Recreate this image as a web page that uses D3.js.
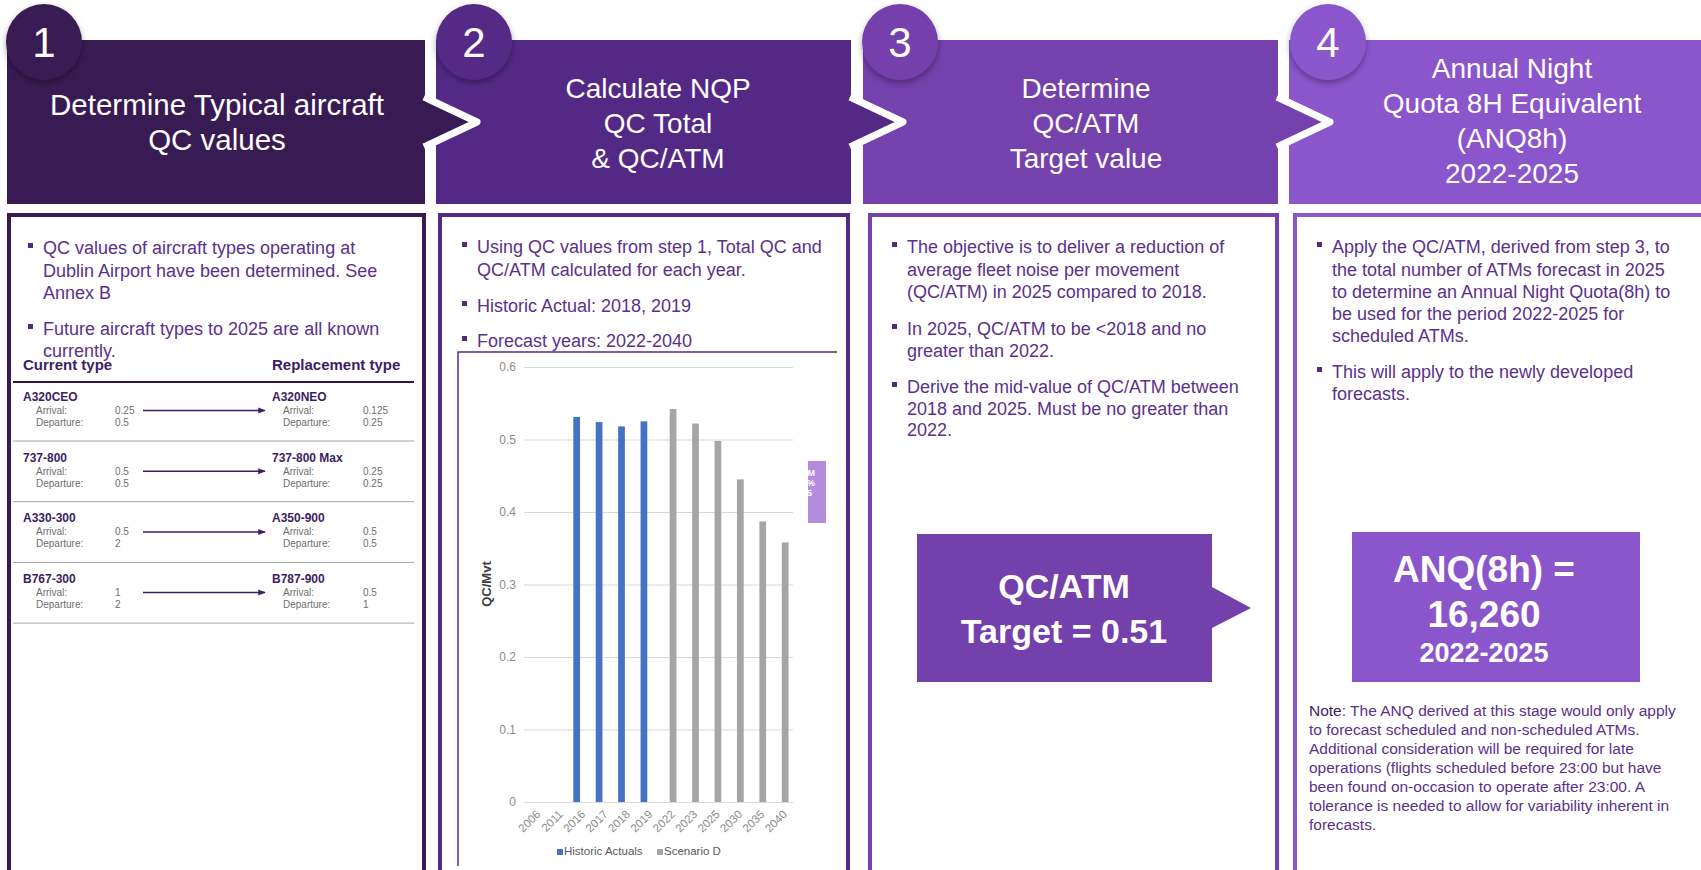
<!DOCTYPE html>
<html><head><meta charset="utf-8">
<script src="https://cdn.jsdelivr.net/npm/d3@7"></script>
<style>
html,body{margin:0;padding:0;background:#fff;overflow:hidden}
svg{display:block;font-family:"Liberation Sans",Arial,Helvetica,sans-serif}
</style></head><body>
<svg id="c" width="1701" height="870"></svg>
<script>
// ---------------- DATA ----------------
const stepNumbers = ["1", "2", "3", "4"];
const stepTitles = [
  ["Determine Typical aircraft", "QC values"],
  ["Calculate NQP", "QC Total", "& QC/ATM"],
  ["Determine", "QC/ATM", "Target value"],
  ["Annual Night", "Quota 8H Equivalent", "(ANQ8h)", "2022-2025"]
];
const step1Bullets = [
  ["QC values of aircraft types operating at", "Dublin Airport have been determined. See", "Annex B"],
  ["Future aircraft types to 2025 are all known", "currently."]
];
const step2Bullets = [
  ["Using QC values from step 1, Total QC and", "QC/ATM calculated for each year."],
  ["Historic Actual: 2018, 2019"],
  ["Forecast years: 2022-2040"]
];
const step3Bullets = [
  ["The objective is to deliver a reduction of", "average fleet noise per movement", "(QC/ATM) in 2025 compared to 2018."],
  ["In 2025, QC/ATM to be <2018 and no", "greater than 2022."],
  ["Derive the mid-value of QC/ATM between", "2018 and 2025. Must be no greater than", "2022."]
];
const step4Bullets = [
  ["Apply the QC/ATM, derived from step 3, to", "the total number of ATMs forecast in 2025", "to determine an Annual Night Quota(8h) to", "be used for the period 2022-2025 for", "scheduled ATMs."],
  ["This will apply to the newly developed", "forecasts."]
];
const tableHeaders = ["Current type", "Replacement type"];
const rowLabels = ["Arrival:", "Departure:"];
const currentTypes = ["A320CEO", "737-800", "A330-300", "B767-300"];
const currentArrival = ["0.25", "0.5", "0.5", "1"];
const currentDeparture = ["0.5", "0.5", "2", "2"];
const replacementTypes = ["A320NEO", "737-800 Max", "A350-900", "B787-900"];
const replacementArrival = ["0.125", "0.25", "0.5", "0.5"];
const replacementDeparture = ["0.25", "0.25", "0.5", "1"];

const years = ["2006", "2011", "2016", "2017", "2018", "2019", "2022", "2023", "2025", "2030", "2035", "2040"];
const historicActuals = [null, null, 0.531, 0.524, 0.518, 0.525, null, null, null, null, null, null];
const scenarioD = [null, null, null, null, null, null, 0.542, 0.522, 0.498, 0.445, 0.387, 0.358];
const yTicks = [0, 0.1, 0.2, 0.3, 0.4, 0.5, 0.6];
const seriesNames = ["Historic Actuals", "Scenario D"];
const yAxisTitle = "QC/Mvt";

const targetLines = ["QC/ATM", "Target = 0.51"];
const anqLines = ["ANQ(8h) =", "16,260", "2022-2025"];
const noteLabel = "Note";
const noteLines = [
  ": The ANQ derived at this stage would only apply",
  "to forecast scheduled and non-scheduled ATMs.",
  "Additional consideration will be required for late",
  "operations (flights scheduled before 23:00 but have",
  "been found on-occasion to operate after 23:00. A",
  "tolerance is needed to allow for variability inherent in",
  "forecasts."
];

// ---------------- LAYOUT ----------------
const svg = d3.select("#c");
const defs = svg.append("defs");
const f = defs.append("filter").attr("id", "sh").attr("x", "-30%").attr("y", "-30%").attr("width", "160%").attr("height", "170%");
f.append("feDropShadow").attr("dx", 0).attr("dy", 3).attr("stdDeviation", 3).attr("flood-color", "#000").attr("flood-opacity", 0.35);
defs.append("marker").attr("id", "arr").attr("viewBox", "0 0 10 10").attr("refX", 9).attr("refY", 5)
  .attr("markerWidth", 5).attr("markerHeight", 5).attr("orient", "auto")
  .append("path").attr("d", "M0,1 L10,5 L0,9 Z").attr("fill", "#3c1e63");

const panels = [
  {x0: 7, x1: 425, color: "#371b52", tx: 217, ty: [115, 150], fs: 29.5, cx: 44, bx0: 9, bx1: 424},
  {x0: 436, x1: 851, color: "#542986", tx: 658, ty: [98, 133, 168], fs: 28, cx: 474, bx0: 440, bx1: 848},
  {x0: 863, x1: 1278, color: "#7541ac", tx: 1086, ty: [98, 133, 168], fs: 28, cx: 900, bx0: 870, bx1: 1277},
  {x0: 1289, x1: 1720, color: "#8b56cc", tx: 1512, ty: [78, 113, 148, 183], fs: 28, cx: 1328, bx0: 1295, bx1: 1730}
];
const hTop = 40, hBot = 204, aTop = 97, aBot = 147, aMid = 122, aLen = 52;

// body boxes
panels.forEach(p => {
  svg.append("rect").attr("x", p.bx0).attr("y", 215).attr("width", p.bx1 - p.bx0).attr("height", 720)
    .attr("fill", "#fff").attr("stroke", p.color).attr("stroke-width", 4);
});

// headers (draw right to left so arrows overlap next panel)
for (let i = panels.length - 1; i >= 0; i--) {
  const p = panels[i];
  svg.append("rect").attr("x", p.x0).attr("y", hTop).attr("width", p.x1 - p.x0).attr("height", hBot - hTop).attr("fill", p.color);
  if (i < panels.length - 1) {
    svg.append("path")
      .attr("d", `M${p.x1 - 1},${aTop} L${p.x1 + aLen},${aMid} L${p.x1 - 1},${aBot}`)
      .attr("fill", p.color).attr("stroke", "#fff").attr("stroke-width", 7).attr("stroke-linejoin", "round");
    svg.append("rect").attr("x", p.x1 - 6).attr("y", aTop + 4).attr("width", 6).attr("height", aBot - aTop - 8).attr("fill", p.color);
  }
  const t = svg.append("text").attr("fill", "#fff").attr("font-size", p.fs).attr("text-anchor", "middle");
  stepTitles[i].forEach((s, j) => t.append("tspan").attr("x", p.tx).attr("y", p.ty[j]).text(s));
}
// number circles
panels.forEach((p, i) => {
  svg.append("circle").attr("cx", p.cx).attr("cy", 42).attr("r", 38).attr("fill", p.color).attr("filter", "url(#sh)");
  svg.append("text").attr("x", p.cx).attr("y", 57).attr("text-anchor", "middle").attr("font-size", 42)
    .attr("fill", "#fff").text(stepNumbers[i]);
});

// bullets
const textColor = "#5a318b";
function bullets(groups, tx, baselines, size) {
  groups.forEach((lines, g) => {
    svg.append("rect").attr("x", tx - 15).attr("y", baselines[g][0] - 11).attr("width", 5).attr("height", 5).attr("fill", "#4f2b7c");
    lines.forEach((s, k) => {
      svg.append("text").attr("x", tx).attr("y", baselines[g][k]).attr("font-size", size).attr("fill", textColor).text(s);
    });
  });
}
bullets(step1Bullets, 43, [[254, 277, 299], [335, 357]], 18);
bullets(step2Bullets, 477, [[253, 276], [312], [347]], 18);
bullets(step3Bullets, 907, [[253, 276, 298], [335, 357], [393, 415, 436]], 18);
bullets(step4Bullets, 1332, [[253, 276, 298, 320, 342], [378, 400]], 18);

// ---------------- TABLE (panel 1) ----------------
const dark = "#3c1e63";
svg.append("text").attr("x", 23).attr("y", 370).attr("font-size", 15).attr("font-weight", "bold").attr("fill", dark).text(tableHeaders[0]);
svg.append("text").attr("x", 272).attr("y", 370).attr("font-size", 15).attr("font-weight", "bold").attr("fill", dark).text(tableHeaders[1]);
svg.append("line").attr("x1", 13).attr("x2", 414).attr("y1", 382).attr("y2", 382).attr("stroke", "#2d1a48").attr("stroke-width", 2);
const rowStep = 60.7;
currentTypes.forEach((name, i) => {
  const ny = 401 + rowStep * i;
  const cols = [
    {nx: 23, lx: 36, vx: 115, name: name, a: currentArrival[i], d: currentDeparture[i]},
    {nx: 272, lx: 283, vx: 363, name: replacementTypes[i], a: replacementArrival[i], d: replacementDeparture[i]}
  ];
  cols.forEach(c => {
    svg.append("text").attr("x", c.nx).attr("y", ny).attr("font-size", 12).attr("font-weight", "bold").attr("fill", dark).text(c.name);
    svg.append("text").attr("x", c.lx).attr("y", ny + 13).attr("font-size", 10).attr("fill", "#6e6e6e").text(rowLabels[0]);
    svg.append("text").attr("x", c.lx).attr("y", ny + 25).attr("font-size", 10).attr("fill", "#6e6e6e").text(rowLabels[1]);
    svg.append("text").attr("x", c.vx).attr("y", ny + 13).attr("font-size", 10).attr("fill", "#6e6e6e").text(c.a);
    svg.append("text").attr("x", c.vx).attr("y", ny + 25).attr("font-size", 10).attr("fill", "#6e6e6e").text(c.d);
  });
  svg.append("line").attr("x1", 143).attr("x2", 265).attr("y1", ny + 9.5).attr("y2", ny + 9.5)
    .attr("stroke", dark).attr("stroke-width", 1.5).attr("marker-end", "url(#arr)");
  svg.append("line").attr("x1", 13).attr("x2", 414).attr("y1", 441 + rowStep * i).attr("y2", 441 + rowStep * i)
    .attr("stroke", "#a3a3a3").attr("stroke-width", 1);
});

// ---------------- CHART (panel 2) ----------------
const chartL = 524, chartR = 793, chartTop = 367, chartBot = 802;
const y = d3.scaleLinear().domain([0, 0.6]).range([chartBot, chartTop]);
const x0 = d3.scaleBand().domain(years).range([chartL, chartR]).paddingInner(0.4).paddingOuter(0.2);
const x1 = d3.scaleBand().domain(seriesNames).range([0, x0.bandwidth()]);
const colors = {"Historic Actuals": "#4472c4", "Scenario D": "#a5a5a5"};

const gy = svg.append("g").attr("transform", `translate(${chartL},0)`)
  .call(d3.axisLeft(y).tickValues(yTicks).tickSize(-(chartR - chartL)).tickPadding(8)
    .tickFormat(d => d === 0 ? "0" : d3.format(".1f")(d)));
gy.select(".domain").remove();
gy.selectAll(".tick line").attr("stroke", "#d9d9d9").attr("stroke-width", 1.2);
gy.selectAll(".tick text").attr("fill", "#8c8c8c").attr("font-size", 12).attr("font-family", "Liberation Sans, Arial, sans-serif");

const barData = [];
years.forEach((yr, i) => {
  if (historicActuals[i] != null) barData.push({yr, s: seriesNames[0], v: historicActuals[i]});
  if (scenarioD[i] != null) barData.push({yr, s: seriesNames[1], v: scenarioD[i]});
});
svg.append("g").selectAll("rect").data(barData).join("rect")
  .attr("x", d => x0(d.yr) + x1(d.s)).attr("width", x1.bandwidth())
  .attr("y", d => y(d.v)).attr("height", d => y(0) - y(d.v))
  .attr("fill", d => colors[d.s]);

const gx = svg.append("g").attr("transform", `translate(0,${chartBot})`)
  .call(d3.axisBottom(x0).tickSize(0).tickPadding(0));
gx.select(".domain").remove();
gx.selectAll(".tick text").attr("fill", "#8c8c8c").attr("font-size", 11.5).attr("font-family", "Liberation Sans, Arial, sans-serif")
  .attr("text-anchor", "end").attr("dy", 0).attr("y", 0)
  .attr("transform", "translate(6,13) rotate(-45)");

svg.append("text").attr("transform", `translate(491,584) rotate(-90)`).attr("text-anchor", "middle")
  .attr("font-size", 13).attr("font-weight", "bold").attr("fill", "#404040").text(yAxisTitle);

// legend
const legX = [557, 657];
seriesNames.forEach((s, i) => {
  svg.append("rect").attr("x", legX[i]).attr("y", 849).attr("width", 6).attr("height", 6).attr("fill", colors[s]);
  svg.append("text").attr("x", legX[i] + 7).attr("y", 855).attr("font-size", 11.5).attr("fill", "#595959").text(s);
});

// clipped callout fragment at right of chart
defs.append("clipPath").attr("id", "frag").append("rect").attr("x", 808).attr("y", 461).attr("width", 18).attr("height", 62);
const fr = svg.append("g").attr("clip-path", "url(#frag)");
fr.append("rect").attr("x", 808).attr("y", 461).attr("width", 18).attr("height", 62).attr("fill", "#b38cdc");
[["ATM", 476, 815], ["5%", 486, 815], ["25", 496, 812]].forEach(t =>
  fr.append("text").attr("x", t[2]).attr("y", t[1]).attr("text-anchor", "end").attr("font-size", 9).attr("font-weight", "bold").attr("fill", "#fff").text(t[0]));

// chart frame
svg.append("path").attr("d", "M458,866 V352 H837").attr("fill", "none").attr("stroke", "#542986").attr("stroke-width", 1.5);

// ---------------- TARGET callout (panel 3) ----------------
svg.append("path").attr("d", "M917,534 H1212 V587 L1251,608 L1212,628 V682 H917 Z").attr("fill", "#7440ab");
targetLines.forEach((s, i) => svg.append("text").attr("x", 1064).attr("y", [598, 643][i]).attr("text-anchor", "middle")
  .attr("font-size", 34).attr("font-weight", "bold").attr("fill", "#fff").text(s));

// ---------------- ANQ box (panel 4) ----------------
svg.append("rect").attr("x", 1352).attr("y", 532).attr("width", 288).attr("height", 150).attr("fill", "#8b56cc");
anqLines.forEach((s, i) => svg.append("text").attr("x", 1484).attr("y", [582, 627, 662][i]).attr("text-anchor", "middle")
  .attr("font-size", [37, 37, 27][i]).attr("font-weight", "bold").attr("fill", "#fff").text(s));

noteLines.forEach((s, i) => {
  const t = svg.append("text").attr("x", 1309).attr("y", 716 + 19 * i).attr("font-size", 15.5).attr("fill", textColor);
  if (i === 0) t.append("tspan").attr("fill", "#3c1e63").text(noteLabel);
  t.append("tspan").text(s);
});
</script>
</body></html>
